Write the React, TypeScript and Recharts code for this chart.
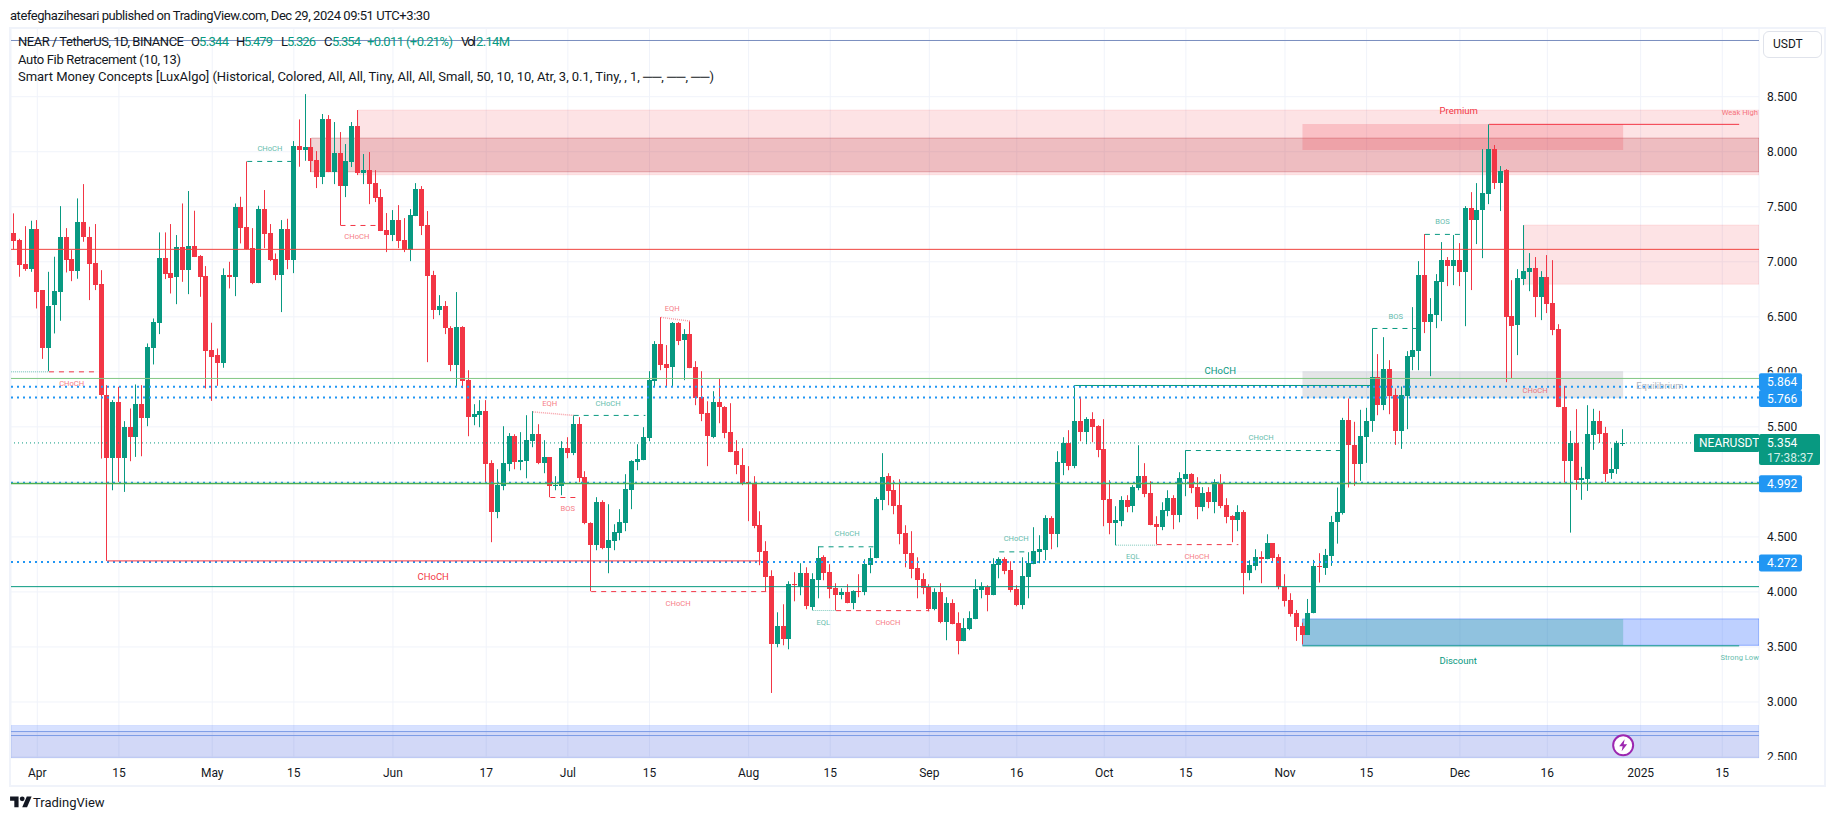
import React from "react";
import { ComposedChart, Bar, XAxis, YAxis, CartesianGrid, ReferenceLine, ReferenceArea, ReferenceDot } from "recharts";

const firstDay = -4;
const opens = [
7.261,7.197,6.979,6.937,7.297,6.743,6.218,6.600,6.727,7.224,
7.024,6.918,7.361,7.224,6.988,6.797,5.788,5.215,5.724,5.215,
5.497,5.406,5.706,5.579,6.218,6.446,7.034,6.894,6.861,7.133,
6.924,7.143,7.052,6.870,6.197,6.152,6.079,6.879,6.861,7.497,
7.315,7.124,6.806,7.479,7.261,7.024,6.879,7.297,7.015,8.052,
8.015,8.043,7.924,7.770,8.297,7.815,7.988,7.688,7.906,8.234,
7.806,7.833,7.715,7.588,7.288,7.243,7.379,7.197,7.106,7.415,
7.661,7.333,6.879,6.561,6.597,6.397,6.061,6.406,5.924,5.588,
5.606,5.643,5.170,4.724,4.961,5.161,5.415,5.179,5.188,5.370,
5.433,5.170,5.224,4.961,4.961,5.306,5.261,5.524,5.043,4.624,
4.424,4.815,4.397,4.461,4.533,4.624,4.924,5.179,5.197,5.397,
5.915,6.252,6.070,6.042,6.442,6.288,6.343,6.042,5.770,5.624,
5.406,5.724,5.679,5.452,5.279,5.152,4.997,4.988,4.606,4.370,
4.143,3.524,3.688,3.570,4.070,4.043,4.170,3.861,4.106,4.315,
4.179,4.033,3.970,3.997,3.897,4.006,3.997,4.243,4.306,4.833,
5.052,4.924,4.788,4.533,4.352,4.215,4.115,4.042,3.842,3.997,
3.724,3.897,3.715,3.552,3.661,3.752,4.015,4.042,3.970,4.243,
4.297,4.197,4.024,3.879,4.133,4.252,4.361,4.379,4.670,4.525,
5.170,5.352,5.143,5.552,5.452,5.570,5.506,5.297,4.843,4.624,
4.643,4.833,4.779,4.943,5.052,4.897,4.615,4.588,4.733,4.852,
4.697,5.024,5.070,4.952,4.770,4.906,4.815,4.988,4.788,4.688,
4.652,4.724,4.170,4.234,4.315,4.297,4.443,4.315,4.049,3.927,
3.809,3.691,3.609,3.806,4.237,4.221,4.327,4.634,4.718,5.564,
5.336,5.164,5.409,5.552,5.952,5.697,6.024,5.788,5.464,5.782,
6.133,6.188,6.879,6.452,6.515,6.815,7.015,6.961,7.015,6.906,
7.488,7.379,7.470,7.615,8.024,7.715,7.833,6.506,6.424,6.843,
6.906,6.943,6.679,6.861,6.624,6.388,5.682,5.191,5.355,5.018,
5.027,5.427,5.555,5.446,5.082,5.109,5.344];
const highs = [
7.440,7.209,7.324,7.373,7.379,6.743,6.909,7.046,7.506,7.306,
7.106,7.576,7.706,7.318,7.343,6.924,5.879,5.743,5.864,5.552,
5.667,5.885,5.879,6.258,6.485,7.267,7.267,7.343,7.243,7.530,
7.643,7.464,7.061,6.961,6.446,6.212,6.940,7.000,7.530,7.591,
7.912,7.306,7.509,7.652,7.343,7.076,7.379,7.391,8.097,8.294,
8.524,8.124,8.006,8.343,8.333,8.270,8.179,8.070,8.270,8.379,
7.979,7.997,7.833,7.661,7.443,7.470,7.515,7.397,7.479,7.715,
7.688,7.461,6.918,6.697,6.643,6.415,6.725,6.415,6.015,5.706,
5.743,5.743,5.197,5.115,5.506,5.443,5.433,5.452,5.606,5.643,
5.524,5.379,5.224,5.052,5.370,5.406,5.606,5.588,5.097,4.633,
4.861,4.833,4.797,4.615,4.752,5.070,5.197,5.342,5.497,6.006,
6.279,6.497,6.243,6.452,6.452,6.388,6.461,6.097,6.006,5.733,
5.824,5.943,5.688,5.715,5.379,5.306,5.143,5.052,4.733,4.461,
4.197,3.815,3.888,4.097,4.179,4.261,4.224,4.170,4.415,4.333,
4.252,4.079,4.033,4.070,4.015,4.161,4.297,4.397,4.861,5.261,
5.079,5.015,5.024,4.606,4.552,4.315,4.170,4.070,4.033,4.079,
3.952,3.933,3.815,3.761,3.824,4.115,4.088,4.061,4.306,4.315,
4.315,4.279,4.061,4.315,4.361,4.588,4.515,4.697,4.688,5.279,
5.406,5.470,5.879,5.761,5.588,5.633,5.515,5.570,5.015,4.779,
4.870,4.879,4.970,5.333,5.170,5.006,4.688,4.815,4.924,4.879,
5.088,5.288,5.079,5.043,4.952,4.952,5.024,5.070,4.852,4.697,
4.788,4.743,4.288,4.388,4.370,4.524,4.443,4.343,4.161,3.988,
3.836,3.721,3.936,4.291,4.352,4.391,4.691,4.949,5.582,5.758,
5.546,5.655,5.673,6.394,6.161,6.315,6.106,5.849,5.867,6.188,
6.588,7.006,7.252,6.670,6.888,7.179,7.043,7.243,7.170,7.506,
7.633,7.715,8.024,8.249,8.061,7.870,7.843,6.833,6.933,7.333,
7.079,7.043,6.915,7.061,7.015,6.433,5.873,5.464,5.661,5.137,
5.697,5.664,5.646,5.500,5.309,5.373,5.479];
const lows = [
7.112,6.864,6.918,6.909,6.576,6.118,6.006,6.349,6.464,6.903,
6.824,6.846,7.182,6.652,6.743,5.212,4.282,4.924,5.000,4.909,
5.188,5.227,5.233,5.506,6.067,6.343,6.843,6.712,6.615,6.818,
6.706,7.043,6.682,5.849,5.736,5.873,6.037,6.758,6.688,7.167,
7.112,6.797,6.806,7.124,7.006,6.833,6.543,6.933,6.897,7.864,
7.918,7.815,7.670,7.706,7.815,7.706,7.333,7.588,7.861,7.788,
7.706,7.524,7.543,7.279,7.088,7.188,7.124,7.088,7.006,7.415,
7.243,6.088,6.479,6.515,6.343,6.006,5.870,5.852,5.415,5.515,
5.497,4.994,4.452,4.670,4.924,5.097,5.115,5.106,5.033,5.315,
5.161,5.079,4.861,4.924,4.879,5.215,5.243,4.997,4.615,4.006,
4.379,4.388,4.170,4.379,4.470,4.552,4.752,5.106,5.197,5.370,
5.870,6.015,5.870,5.870,6.243,5.924,6.033,5.697,5.552,5.143,
5.397,5.533,5.397,5.270,5.070,4.970,4.643,4.579,4.243,4.006,
3.082,3.497,3.515,3.479,3.915,3.970,3.843,3.833,3.942,4.106,
3.942,3.833,3.933,3.897,3.843,3.952,3.970,4.170,4.306,4.743,
4.788,4.706,4.433,4.224,4.124,3.942,3.979,3.824,3.833,3.715,
3.561,3.706,3.433,3.552,3.652,3.752,3.942,3.824,3.970,4.124,
4.161,3.997,3.870,3.843,3.942,4.252,4.261,4.288,4.388,4.406,
5.061,5.106,5.124,5.370,5.343,5.361,5.224,4.597,4.524,4.424,
4.597,4.724,4.724,4.924,4.861,4.606,4.433,4.561,4.688,4.570,
4.633,4.870,4.897,4.661,4.733,4.761,4.715,4.761,4.624,4.452,
4.552,3.979,4.106,4.197,4.079,4.297,4.270,4.024,3.867,3.776,
3.555,3.524,3.609,3.806,4.085,4.155,4.237,4.439,4.703,4.949,
4.964,5.009,5.173,5.455,5.606,5.652,5.615,5.336,5.300,5.479,
6.015,6.015,6.352,5.961,6.397,6.461,6.779,6.788,6.779,6.415,
6.743,7.161,7.033,7.524,7.661,7.461,5.906,5.943,6.152,6.788,
6.733,6.497,6.470,6.534,6.333,5.679,4.994,4.539,4.927,4.837,
4.918,5.291,5.355,5.000,5.027,5.073,5.326];
const closes = [
7.191,6.973,6.937,7.297,6.727,6.218,6.597,6.731,7.224,7.018,
6.918,7.361,7.224,6.982,6.791,5.788,5.215,5.724,5.215,5.497,
5.406,5.706,5.579,6.224,6.452,7.034,6.888,6.852,7.133,6.924,
7.143,7.043,6.861,6.188,6.133,6.079,6.879,6.864,7.497,7.306,
7.112,6.803,7.479,7.252,7.015,6.879,7.297,7.015,8.052,8.015,
8.043,7.915,7.770,8.297,7.815,7.988,7.688,7.915,8.234,7.806,
7.833,7.706,7.579,7.279,7.243,7.379,7.188,7.106,7.424,7.661,
7.324,6.870,6.561,6.597,6.397,6.061,6.406,5.915,5.588,5.615,
5.643,5.161,4.724,4.970,5.170,5.415,5.179,5.197,5.379,5.433,
5.170,5.224,4.961,4.970,5.306,5.261,5.524,5.033,4.624,4.424,
4.815,4.397,4.470,4.543,4.633,4.933,5.188,5.206,5.406,5.924,
6.252,6.061,6.033,6.442,6.279,6.343,6.033,5.761,5.615,5.415,
5.724,5.679,5.443,5.270,5.152,4.988,4.979,4.597,4.361,4.133,
3.524,3.688,3.570,4.070,4.061,4.170,3.870,4.115,4.306,4.170,
4.024,3.970,3.997,3.897,4.006,3.997,4.252,4.306,4.843,5.043,
4.915,4.779,4.524,4.343,4.206,4.106,4.033,3.842,3.997,3.724,
3.897,3.706,3.552,3.670,3.761,4.024,4.052,3.970,4.252,4.297,
4.188,4.015,3.879,4.143,4.261,4.370,4.388,4.670,4.525,5.179,
5.352,5.143,5.552,5.452,5.570,5.497,5.288,4.833,4.624,4.652,
4.833,4.770,4.952,5.052,4.888,4.606,4.588,4.743,4.852,4.697,
5.033,5.070,4.943,4.770,4.897,4.815,4.997,4.779,4.679,4.652,
4.724,4.170,4.243,4.315,4.297,4.443,4.306,4.043,3.918,3.803,
3.685,3.609,3.806,4.237,4.227,4.337,4.634,4.727,5.564,5.336,
5.164,5.418,5.555,5.952,5.697,6.024,5.779,5.464,5.791,6.143,
6.197,6.879,6.452,6.525,6.824,7.015,6.961,7.015,6.906,7.488,
7.379,7.470,7.624,8.024,7.715,7.824,6.497,6.415,6.852,6.915,
6.943,6.679,6.861,6.615,6.379,5.679,5.191,5.355,5.018,5.033,
5.433,5.555,5.433,5.073,5.118,5.349,5.354];

const GREEN = "#089981";
const RED = "#f23645";
const BLUE = "#2196f3";

const tickDays = [0, 14, 30, 44, 61, 77, 91, 105, 122, 136, 153, 168, 183, 197, 214, 228, 244, 259, 275, 289];
const tickTexts = ["Apr", "15", "May", "15", "Jun", "17", "Jul", "15", "Aug", "15", "Sep", "16", "Oct", "15", "Nov", "15", "Dec", "16", "2025", "15"];
const priceTicks = [2.5, 3, 3.5, 4, 4.5, 5, 5.5, 6, 6.5, 7, 7.5, 8, 8.5];
const coveredPriceLabels = [5];
const dayDomain = [-4.51, 295.3];
const priceDomain = [2.4909, 9.1245];

// x1, x2, top price, bottom price, style key
const zones: [number | null, number | null, number, number, string][] = [
  [55, null, 8.379, 7.791, "pink"],
  [47, null, 8.124, 7.818, "dark"],
  [255, null, 7.334, 6.797, "pink"],
  [217, 272, 8.252, 8.015, "premium"],
  [217, 272, 6.006, 5.761, "grey"],
  [217, null, 3.755, 3.515, "blue"],
  [217, 272, 3.755, 3.515, "teal"],
  [null, null, 2.786, 2.4909, "lightBlue"],
  [null, null, 2.731, 2.4909, "midBlue"],
];
const zoneStyles: Record<string, any> = {
  pink: { fill: RED, fillOpacity: 0.14, stroke: RED, strokeOpacity: 0.1 },
  dark: { fill: "#b22833", fillOpacity: 0.2, stroke: "#b22833", strokeOpacity: 0.3 },
  premium: { fill: RED, fillOpacity: 0.2, stroke: "none" },
  grey: { fill: "#787b86", fillOpacity: 0.2, stroke: "none" },
  blue: { fill: "#2962ff", fillOpacity: 0.3, stroke: "#2962ff", strokeOpacity: 0.45 },
  teal: { fill: GREEN, fillOpacity: 0.25, stroke: "none" },
  lightBlue: { fill: "#2962ff", fillOpacity: 0.19, stroke: "#2962ff", strokeOpacity: 0.12 },
  midBlue: { fill: "#967396", fillOpacity: 0.08, stroke: "none" },
};

// full-width levels: price, style key
const levels: [number, string][] = [
  [9.011, "topBlue"],
  [7.113, "redThin"],
  [5.94, "fibGreen"],
  [5.864, "blueDots"],
  [5.766, "blueDots"],
  [5.354, "lastDots"],
  [4.992, "blueDots"],
  [4.985, "midGreen"],
  [4.272, "blueDots"],
  [4.048, "tealThin"],
  [2.731, "bottomBlue"],
  [2.695, "bottomBlue"],
];
const levelStyles: Record<string, any> = {
  topBlue: { stroke: "#7b8fc0", strokeWidth: 1 },
  redThin: { stroke: "#f0443f", strokeWidth: 1 },
  fibGreen: { stroke: "#81c784", strokeWidth: 1 },
  midGreen: { stroke: "#4caf50", strokeWidth: 1.5 },
  blueDots: { stroke: BLUE, strokeWidth: 2, strokeDasharray: "2 4" },
  lastDots: { stroke: GREEN, strokeWidth: 1, strokeDasharray: "1 3" },
  tealThin: { stroke: GREEN, strokeWidth: 1 },
  bottomBlue: { stroke: "#7b9be6", strokeWidth: 1 },
};

// day1, price1, day2, price2, style key
const segments: [number, number, number, number, string][] = [
  [12, 4.282, 124.1, 4.282, "redSolid"],
  [178, 5.876, 229, 5.876, "tealSolid"],
  [249, 8.249, 291.9, 8.249, "redSolid"],
  [217, 3.51, 291.9, 3.51, "tealSolid"],
  [36, 7.912, 44, 7.912, "tealDash"],
  [52, 7.33, 59, 7.33, "redDash"],
  [2, 6.0, 10.5, 6.0, "redDash"],
  [-4.5, 6.0, 2, 6.0, "tealDot"],
  [85, 5.636, 92, 5.604, "redDot"],
  [92, 5.604, 104.3, 5.604, "tealDash"],
  [88, 4.858, 92.6, 4.858, "redDash"],
  [107, 6.495, 112, 6.461, "redDot"],
  [95, 4.003, 125.6, 4.003, "redDash"],
  [133, 3.831, 137, 3.831, "tealDot"],
  [134, 4.41, 143.4, 4.41, "tealDash"],
  [137, 3.83, 153, 3.83, "redDash"],
  [165, 4.364, 169.8, 4.364, "tealDash"],
  [185, 4.425, 192, 4.425, "tealDot"],
  [192, 4.43, 206, 4.43, "redDash"],
  [197, 5.285, 223.6, 5.285, "tealDash"],
  [229, 6.394, 236.6, 6.394, "tealDash"],
  [238, 7.249, 244.5, 7.249, "tealDash"],
];
const segmentStyles: Record<string, any> = {
  redSolid: { stroke: RED, strokeWidth: 1 },
  tealSolid: { stroke: GREEN, strokeWidth: 1 },
  redDash: { stroke: RED, strokeWidth: 1, strokeDasharray: "5 5" },
  tealDash: { stroke: GREEN, strokeWidth: 1, strokeDasharray: "5 5" },
  redDot: { stroke: "#f7a0a8", strokeWidth: 1.5, strokeDasharray: "1 1" },
  tealDot: { stroke: "#7cc8bb", strokeWidth: 1, strokeDasharray: "1 1" },
};

// day, price, text, style key
const notes: [number, number, string, string][] = [
  [39.9, 8.034, "CHoCH", "tealSmall"],
  [54.8, 7.234, "CHoCH", "redSmall"],
  [5.9, 5.897, "CHoCH", "redSmall"],
  [87.9, 5.715, "EQH", "redSmall"],
  [97.9, 5.715, "CHoCH", "tealSmall"],
  [91, 4.76, "BOS", "redSmall"],
  [108.9, 6.579, "EQH", "redSmall"],
  [109.9, 3.897, "CHoCH", "redSmall"],
  [134.8, 3.718, "EQL", "tealSmall"],
  [138.9, 4.534, "CHoCH", "tealSmall"],
  [145.9, 3.725, "CHoCH", "redSmall"],
  [167.9, 4.488, "CHoCH", "tealSmall"],
  [187.9, 4.318, "EQL", "tealSmall"],
  [198.9, 4.318, "CHoCH", "redSmall"],
  [209.9, 5.406, "CHoCH", "tealSmall"],
  [233, 6.5, "BOS", "tealSmall"],
  [241, 7.364, "BOS", "tealSmall"],
  [256.9, 5.834, "CHoCH", "redSmall"],
  [292, 8.356, "Weak High", "redSmall"],
  [292, 3.4, "Strong Low", "tealSmall"],
  [67.9, 4.143, "CHoCH", "redLarge"],
  [202.9, 6.015, "CHoCH", "tealLarge"],
  [243.8, 8.379, "Premium", "redLarge"],
  [243.7, 3.373, "Discount", "tealLarge"],
  [278.3, 5.879, "Equilibrium", "greyLarge"],
];
const noteStyles: Record<string, any> = {
  tealSmall: { fill: GREEN, fontSize: 7.6, opacity: 0.65 },
  redSmall: { fill: RED, fontSize: 7.6, opacity: 0.65 },
  tealLarge: { fill: GREEN, fontSize: 9.5 },
  redLarge: { fill: RED, fontSize: 9.5 },
  greyLarge: { fill: "#b2b5be", fontSize: 9.5 },
};

// price, text
const blueTags: [number, string][] = [[5.864, "5.864"], [5.766, "5.766"], [4.992, "4.992"], [4.272, "4.272"]];
const blueTagShift = [-5, 1, 1, 1];
const lastPrice = 5.354;
const countdown = "17:38:37";
const symbol = "NEARUSDT";

const headline = "atefeghazihesari published on TradingView.com, Dec 29, 2024 09:51 UTC+3:30";
const legendFib = "Auto Fib Retracement (10, 13)";
const legendSmc = "Smart Money Concepts [LuxAlgo] (Historical, Colored, All, All, Tiny, All, All, Small, 50, 10, 10, Atr, 3, 0.1, Tiny, , 1, ──, ──, ──)";
// text, left, width, isValue
const legendParts: [string, number, number, boolean][] = [
  ["NEAR / TetherUS, 1D, BINANCE", 18, 166, false],
  ["O", 191, 8, false],
  ["5.344", 199, 30, true],
  ["H", 236, 8, false],
  ["5.479", 244, 29, true],
  ["L", 281, 6, false],
  ["5.326", 287, 29, true],
  ["C", 324, 8, false],
  ["5.354", 332, 29, true],
  ["+0.011 (+0.21%)", 367, 86, true],
  ["Vol", 461, 15, false],
  ["2.14M", 476, 34, true],
];

const rows = opens.map((open, i) => ({
  day: firstDay + i,
  open,
  high: highs[i],
  low: lows[i],
  close: closes[i],
}));

const FONT = "Roboto, sans-serif";

function Candle(props: any) {
  const { x, y, width, height, payload } = props;
  if (payload == null || height == null) return null;
  const h = Math.abs(height);
  const top = Math.min(y, y + height);
  const unit = h / (payload.high - payload.low || 1);
  const color = payload.close >= payload.open ? GREEN : RED;
  const c = Math.floor(x + width / 2);
  const bodyTop = top + (payload.high - Math.max(payload.open, payload.close)) * unit;
  const bodyH = Math.max(1, Math.abs(payload.open - payload.close) * unit);
  return (
    <g>
      <rect x={c} y={top} width={1} height={h} fill={color} />
      <rect x={c - 2} y={Math.round(bodyTop)} width={5} height={Math.max(1, Math.round(bodyH))} fill={color} />
    </g>
  );
}

function BlueTag(props: any) {
  const { cy, text, shift } = props;
  const left = 1759;
  const c = cy + shift;
  return (
    <g>
      <rect x={left} y={c - 8.5} width={43} height={17} rx={2} fill={BLUE} />
      <text x={left + 8} y={c + 0.5} fontSize={12} fontFamily={FONT} fill="#fff" dominantBaseline="central">{text}</text>
    </g>
  );
}

function LastTag(props: any) {
  const { cy } = props;
  const left = 1759;
  return (
    <g>
      <rect x={left - 65} y={cy - 9} width={65} height={18} rx={1} fill={GREEN} />
      <text x={left - 60} y={cy + 0.5} fontSize={12} fontFamily={FONT} fill="#fff" dominantBaseline="central">{symbol}</text>
      <rect x={left} y={cy - 9} width={61} height={31} rx={2} fill={GREEN} />
      <text x={left + 8} y={cy + 0.5} fontSize={12} fontFamily={FONT} fill="#fff" dominantBaseline="central">{lastPrice.toFixed(3)}</text>
      <text x={left + 8} y={cy + 15} fontSize={12} fontFamily={FONT} fill="#d6efe9" dominantBaseline="central">{countdown}</text>
    </g>
  );
}

function Bolt(props: any) {
  const { cx } = props;
  const cy = 745.3;
  return (
    <g>
      <circle cx={cx} cy={cy} r={10} fill="#fff" stroke="#9c27b0" strokeWidth={2} />
      <path d={`M${cx + 1.5} ${cy - 6}L${cx - 4} ${cy + 1}H${cx - 0.5}L${cx - 1.5} ${cy + 6}L${cx + 4} ${cy - 1}H${cx + 0.5}Z`} fill="#9c27b0" />
    </g>
  );
}

function Note(props: any) {
  const { cx, cy, text, kind } = props;
  return (
    <text x={cx} y={cy} textAnchor="middle" dominantBaseline="central" fontFamily={FONT} {...noteStyles[kind]}>
      {text}
    </text>
  );
}

function xTick(props: any) {
  const { x, y, payload } = props;
  const i = tickDays.indexOf(payload.value);
  return (
    <text x={x} y={y + 9} textAnchor="middle" dominantBaseline="central" fontFamily={FONT} fontSize={12} fill="#131722">
      {tickTexts[i]}
    </text>
  );
}

function yTick(props: any) {
  const { x, y, payload } = props;
  const v = Number(payload.value);
  if (coveredPriceLabels.includes(v)) return null;
  const clipTop = v === 6 ? 372.5 : 760;
  const id = "ytick" + Math.round(v * 10);
  return (
    <g clipPath={`url(#${id})`}>
      <defs>
        <clipPath id={id}>
          <rect x={x - 5} y={0} width={80} height={clipTop} />
        </clipPath>
      </defs>
      <text x={x} y={y} textAnchor="start" dominantBaseline="central" fontFamily={FONT} fontSize={12} fill="#131722">
        {v.toFixed(3)}
      </text>
    </g>
  );
}

function Fit(props: any) {
  const { x, y, w, fill, text, size } = props;
  return (
    <text x={x} y={y} textLength={w} lengthAdjust="spacing" dominantBaseline="central" fontFamily={FONT} fontSize={size ?? 13} fill={fill ?? "#131722"}>
      {text}
    </text>
  );
}

export default function App() {
  const right = dayDomain[1];
  return (
    <div style={{ position: "absolute", left: 0, top: 0, width: 1835, height: 821, background: "#fff", overflow: "hidden" }}>
      <div style={{ position: "absolute", left: 9, top: 27, width: 1813, height: 756, border: "2px solid #f0f3fa" }} />
      <div style={{ position: "absolute", left: 0, top: 0 }}>
        <ComposedChart
          width={1835}
          height={821}
          data={rows}
          margin={{ left: 11, right: 8, top: 28, bottom: 35 }}
        >
          <CartesianGrid stroke="#f0f3fa" strokeWidth={1} />
          <XAxis
            type="number"
            dataKey="day"
            scale="linear"
            domain={dayDomain}
            ticks={tickDays}
            interval={0}
            allowDataOverflow
            height={28}
            axisLine={false}
            tickLine={false}
            tickMargin={0}
            tick={xTick}
          />
          <YAxis
            orientation="right"
            type="number"
            scale="linear"
            domain={priceDomain}
            ticks={priceTicks}
            interval={0}
            allowDataOverflow
            width={68}
            axisLine={false}
            tickLine={false}
            tick={yTick}
          />
          {zones.map(([x1, x2, top, bottom, kind], i) => (
            <ReferenceArea
              key={"z" + i}
              x1={x1 ?? dayDomain[0]}
              x2={x2 ?? right}
              y1={top}
              y2={bottom}
              ifOverflow="hidden"
              {...zoneStyles[kind]}
            />
          ))}
          {levels.map(([price, kind], i) => (
            <ReferenceLine key={"l" + i} y={price} {...levelStyles[kind]} />
          ))}
          {segments.map(([a, p, b, q, kind], i) => (
            <ReferenceLine key={"s" + i} segment={[{ x: a, y: p }, { x: b, y: q }]} {...segmentStyles[kind]} />
          ))}
          {notes.map(([d, p, text, kind], i) => (
            <ReferenceDot key={"n" + i} x={d} y={p} r={0} ifOverflow="visible" shape={(s: any) => <Note {...s} text={text} kind={kind} />} />
          ))}
          <Bar
            dataKey={(d: any) => [d.low, d.high]}
            barSize={5}
            isAnimationActive={false}
            shape={Candle}
          />
          <ReferenceDot x={272} y={2.6} r={0} ifOverflow="visible" shape={Bolt} />
          {blueTags.map(([p, text], i) => (
            <ReferenceDot key={"t" + i} x={right} y={p} r={0} ifOverflow="visible" shape={(s: any) => <BlueTag {...s} text={text} shift={blueTagShift[i]} />} />
          ))}
          <ReferenceDot x={right} y={lastPrice} r={0} ifOverflow="visible" shape={LastTag} />
        </ComposedChart>
      </div>

      <svg style={{ position: "absolute", left: 0, top: 0 }} width={1835} height={90}>
        <Fit x={10} y={15} w={420} text={headline} />
        {legendParts.map(([text, left, w, isValue], i) => (
          <Fit key={i} x={left} y={41.5} w={w} text={text} fill={isValue ? GREEN : "#131722"} />
        ))}
        <Fit x={18} y={59} w={163} text={legendFib} />
        <Fit x={18} y={76} w={696} text={legendSmc} />
      </svg>

      <div style={{ position: "absolute", left: 1763, top: 31, width: 57, height: 25, border: "1px solid #e0e3eb", borderRadius: 6, fontFamily: FONT, fontSize: 12, lineHeight: "25px", color: "#131722", textIndent: 9 }}>USDT</div>

      <svg style={{ position: "absolute", left: 10, top: 794 }} width={22} height={17} viewBox="0 0 36 28">
        <path d="M14 22H7V11H0V4h14v18zM28 22h-8l7.5-18h8L28 22z" fill="#131722" />
        <circle cx="20" cy="8" r="4" fill="#131722" />
      </svg>
      <div style={{ position: "absolute", left: 33, top: 794, fontFamily: FONT, fontSize: 13, lineHeight: "18px", color: "#131722" }}>TradingView</div>
    </div>
  );
}
